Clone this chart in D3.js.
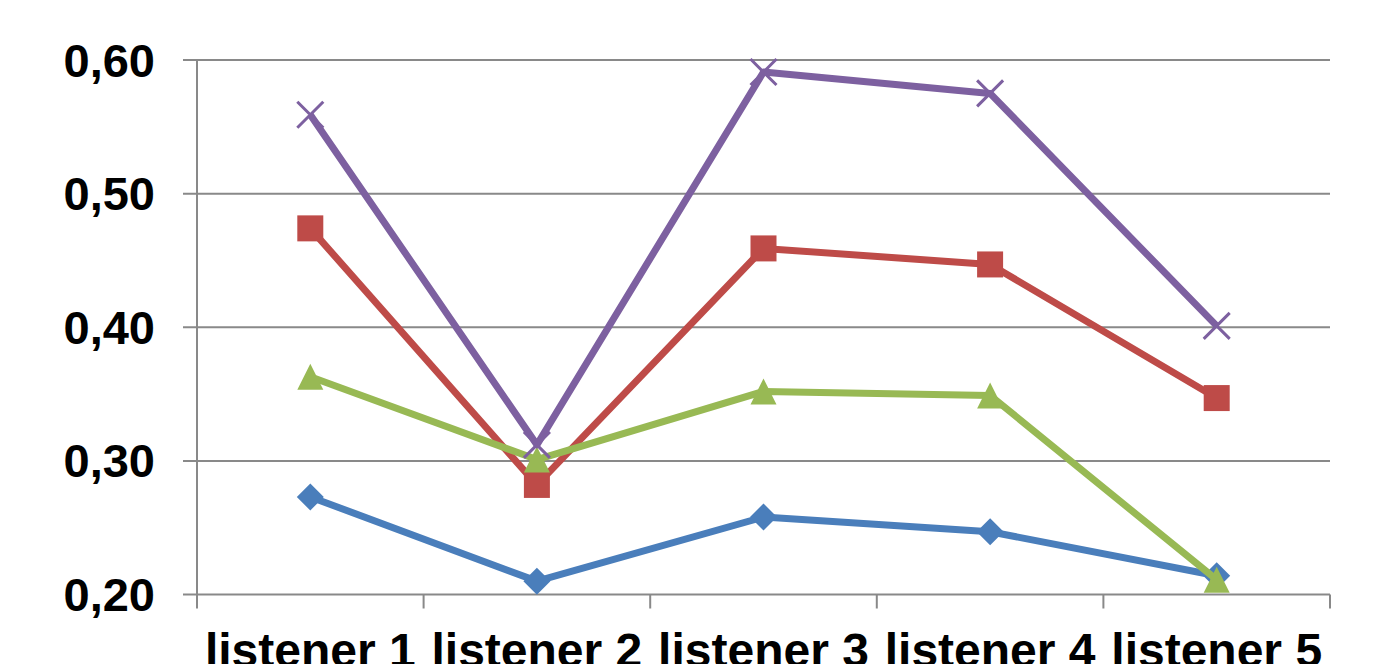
<!DOCTYPE html>
<html>
<head>
<meta charset="utf-8">
<script src="https://cdn.jsdelivr.net/npm/d3@7"></script>
<style>
  html, body { margin: 0; padding: 0; background: #fff; }
  svg { display: block; }
  text { font-family: "Liberation Sans", Arial, sans-serif; font-weight: bold; fill: #000; }
</style>
</head>
<body>
<svg id="chart" width="1378" height="664"></svg>
<script>
// Categories along the x axis
const categories = ["listener 1", "listener 2", "listener 3", "listener 4", "listener 5"];

// Series values per listener
const seriesBlue   = [0.273, 0.210, 0.258, 0.247, 0.214];
const seriesRed    = [0.474, 0.282, 0.459, 0.447, 0.347];
const seriesGreen  = [0.363, 0.301, 0.352, 0.349, 0.211];
const seriesPurple = [0.559, 0.312, 0.591, 0.575, 0.401];

// Y axis tick values
const yTicks = [0.20, 0.30, 0.40, 0.50, 0.60];

const series = [
  { values: seriesBlue,   color: "#4A7EBB", marker: "diamond" },
  { values: seriesRed,    color: "#BE4B48", marker: "square" },
  { values: seriesGreen,  color: "#98B954", marker: "triangle" },
  { values: seriesPurple, color: "#7D60A0", marker: "cross" }
];

const svg = d3.select("#chart");
const plotLeft = 197, plotRight = 1330, plotTop = 60, plotBottom = 594.5;

const x = d3.scaleBand().domain(categories).range([plotLeft, plotRight]).padding(0);
const y = d3.scaleLinear().domain([0.2, 0.6]).range([plotBottom, plotTop]);

const gridColor = "#898989";

// Horizontal gridlines (with tick stubs to the left of the axis)
svg.append("g").selectAll("line").data(yTicks).join("line")
  .attr("x1", plotLeft - 14).attr("x2", plotRight)
  .attr("y1", d => y(d)).attr("y2", d => y(d))
  .attr("stroke", gridColor).attr("stroke-width", 2);

// Vertical axis line
svg.append("line")
  .attr("x1", plotLeft).attr("x2", plotLeft)
  .attr("y1", y(0.6)).attr("y2", plotBottom + 14)
  .attr("stroke", gridColor).attr("stroke-width", 2);

// Category boundary ticks below the x axis
const bounds = categories.map(c => x(c)).concat([plotRight]);
svg.append("g").selectAll("line").data(bounds.slice(1)).join("line")
  .attr("x1", d => d).attr("x2", d => d)
  .attr("y1", plotBottom).attr("y2", plotBottom + 14)
  .attr("stroke", gridColor).attr("stroke-width", 2);

// Y tick labels
svg.append("g").selectAll("text").data(yTicks).join("text")
  .attr("x", 155).attr("y", d => y(d))
  .attr("text-anchor", "end")
  .attr("dominant-baseline", "central")
  .attr("font-size", 47)
  .text(d => d.toFixed(2).replace(".", ","));

// X category labels (run past the bottom edge of the canvas)
svg.append("g").selectAll("text").data(categories).join("text")
  .attr("x", d => x(d) + x.bandwidth() / 2)
  .attr("y", 667)
  .attr("text-anchor", "middle")
  .attr("font-size", 48)
  .text(d => d);

// Marker shapes
function markerPath(type, s) {
  const h = s / 2;
  switch (type) {
    case "diamond":  return `M0,${-h}L${h},0L0,${h}L${-h},0Z`;
    case "square":   return `M${-h},${-h}H${h}V${h}H${-h}Z`;
    case "triangle": return `M0,${-h}L${h},${h}L${-h},${h}Z`;
    case "cross":    return `M${-h},${-h}L${h},${h}M${h},${-h}L${-h},${h}`;
  }
}

const line = d3.line()
  .x((d, i) => x(categories[i]) + x.bandwidth() / 2)
  .y(d => y(d));

series.forEach(s => {
  const g = svg.append("g");
  g.append("path")
    .attr("d", line(s.values))
    .attr("fill", "none")
    .attr("stroke", s.color)
    .attr("stroke-width", 7)
    .attr("stroke-linejoin", "round");
  g.selectAll("path.m").data(s.values).join("path")
    .attr("class", "m")
    .attr("transform", (d, i) => `translate(${x(categories[i]) + x.bandwidth() / 2},${y(d)})`)
    .attr("d", markerPath(s.marker, s.marker === "diamond" ? 27 : 26))
    .attr("fill", s.marker === "cross" ? "none" : s.color)
    .attr("stroke", s.color)
    .attr("stroke-width", s.marker === "cross" ? 3 : 0);
});
</script>
</body>
</html>
